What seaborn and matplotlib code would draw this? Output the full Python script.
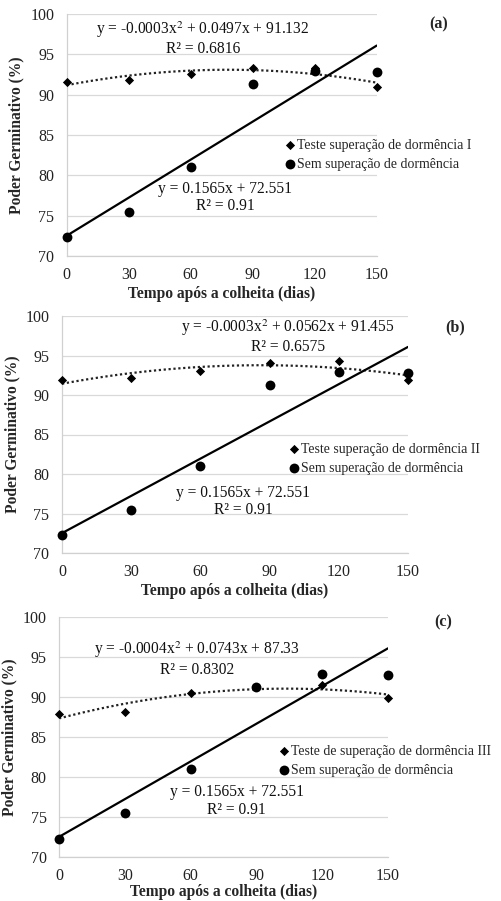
import matplotlib
matplotlib.use('Agg')
import matplotlib.pyplot as plt
import pandas as pd
import seaborn as sns

DIAS = [0, 30, 60, 90, 120, 150]
SEM_SUPERACAO = [72.3, 75.5, 81.0, 91.3, 92.9, 92.8]
TESTE_I = [91.6, 91.8, 92.6, 93.3, 93.3, 91.0]
TESTE_II = [91.9, 92.2, 93.0, 94.1, 94.3, 91.9]
TESTE_III = [87.9, 88.1, 90.5, 91.2, 91.5, 89.9]

LABELS_TESTE = [
    'Teste superação de dormência I',
    'Teste superação de dormência II',
    'Teste de superação de dormência III',
]
LABEL_SEM = 'Sem superação de dormência'
PAINEIS = ['(a)', '(b)', '(c)']
EQ_POLY = [
    'y = -0.0003x$^2$ + 0.0497x + 91.132\nR² = 0.6816',
    'y = -0.0003x$^2$ + 0.0562x + 91.455\nR² = 0.6575',
    'y = -0.0004x$^2$ + 0.0743x + 87.33\nR² = 0.8302',
]
EQ_LIN = 'y = 0.1565x + 72.551\nR² = 0.91'

# layout in pixels
AX_RECTS = [
    (66.7, 14, 376.7, 256),
    (62, 316, 408, 553),
    (59, 617, 388, 857),
]
POLY_POS = [(66, 97.0), (98, 97.4), (63, 94.8)]
LIN_POS = [(76.6, 77.3), (78.5, 76.5), (81, 77.0)]
LEG_POS = [(287, 155), (291, 459), (281, 761)]
TAG_POS = [(439, 24), (455, 327), (443, 622)]
XLABEL_PAD = [2, 2, 0]

W, H = 501, 901


def main() -> None:
    sns.set_theme(style='white')
    plt.rcParams['font.family'] = ['Liberation Serif', 'DejaVu Serif']
    plt.rcParams['mathtext.fontset'] = 'stix'
    fig = plt.figure(figsize=(W / 100, H / 100), dpi=100)

    testes = [TESTE_I, TESTE_II, TESTE_III]
    for i, teste in enumerate(testes):
        x0, y0, x1, y1 = AX_RECTS[i]
        ax = fig.add_axes([x0 / W, 1 - y1 / H, (x1 - x0) / W, (y1 - y0) / H])
        df = pd.DataFrame({'dias': DIAS, 'teste': teste, 'sem': SEM_SUPERACAO})

        sns.regplot(data=df, x='dias', y='teste', order=2, ci=None, scatter=False,
                    truncate=True, ax=ax,
                    line_kws={'color': '#222222', 'linestyle': (0, (1, 1.2)), 'linewidth': 1.6})
        sns.regplot(data=df, x='dias', y='sem', order=1, ci=None, scatter=False,
                    truncate=True, ax=ax,
                    line_kws={'color': 'black', 'linewidth': 1.6})
        sns.scatterplot(data=df, x='dias', y='teste', marker='D', s=22, color='black',
                        edgecolor='black', linewidth=0, ax=ax, clip_on=False, zorder=5,
                        label=LABELS_TESTE[i])
        sns.scatterplot(data=df, x='dias', y='sem', marker='o', s=50, color='black',
                        edgecolor='black', linewidth=0, ax=ax, clip_on=False, zorder=5,
                        label=LABEL_SEM)

        ax.set_xlim(0, 150)
        ax.set_ylim(70, 100)
        ax.set_xticks(DIAS)
        ax.set_yticks([70, 75, 80, 85, 90, 95, 100])
        ax.grid(axis='y', color='#d9d9d9', linewidth=0.9)
        ax.set_axisbelow(True)
        for side in ['top', 'right']:
            ax.spines[side].set_visible(False)
        for side in ['left', 'bottom']:
            ax.spines[side].set_color('#d0d0d0')
            ax.spines[side].set_linewidth(0.9)
        ax.tick_params(axis='both', length=0, labelsize=11.5, colors='#222222')
        ax.tick_params(axis='x', pad=8)
        ax.tick_params(axis='y', pad=9)
        ax.set_xlabel('Tempo após a colheita (dias)', fontsize=11.2, fontweight='bold',
                      labelpad=XLABEL_PAD[i])
        ax.set_ylabel('Poder Germinativo (%)', fontsize=11.2, fontweight='bold', labelpad=4)

        ax.text(*POLY_POS[i], EQ_POLY[i], ha='center', va='center', fontsize=11.2,
                linespacing=1.1, color='#111111')
        ax.text(*LIN_POS[i], EQ_LIN, ha='center', va='center', fontsize=11.2,
                linespacing=1.1, color='#111111')

        lx, ly = LEG_POS[i]
        ax.legend(loc='center left', bbox_to_anchor=(lx / W, 1 - ly / H),
                  bbox_transform=fig.transFigure, frameon=False, fontsize=10,
                  handlelength=0.5, handletextpad=0.25, borderpad=0, labelspacing=0.45,
                  borderaxespad=0)

        tx, ty = TAG_POS[i]
        fig.text(tx / W, 1 - ty / H, PAINEIS[i], ha='center', va='center',
                 fontsize=11.5, fontweight='bold')

    fig.savefig('out.png', dpi=100)
    plt.close(fig)


if __name__ == '__main__':
    main()
